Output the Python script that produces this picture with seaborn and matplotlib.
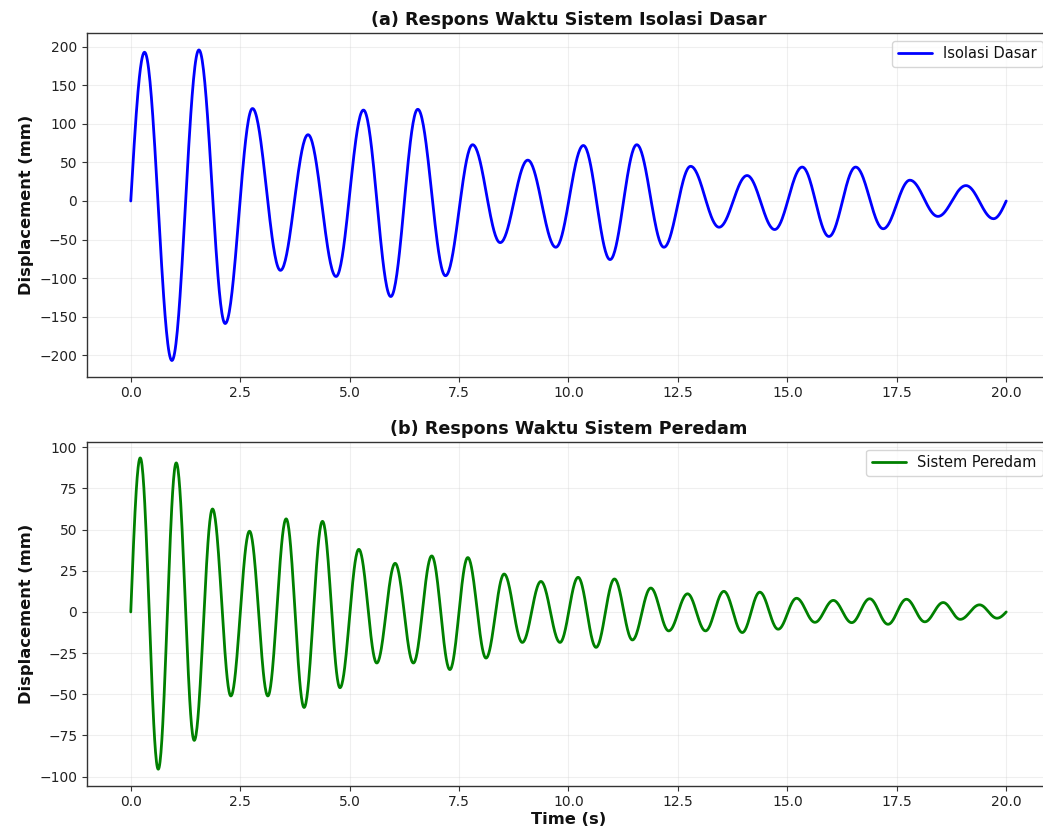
import numpy as np
import pandas as pd
import matplotlib
matplotlib.use("Agg")
import matplotlib.pyplot as plt
import seaborn as sns

# ---- Data (extrema of each response, plus start/end) ----
iso_time = [0.0, 0.315, 0.94, 1.557, 2.157, 2.781, 3.42, 4.05, 4.69, 5.316, 5.94,
            6.557, 7.19, 7.81, 8.44, 9.07, 9.71, 10.34, 10.95, 11.56, 12.18,
            12.79, 13.44, 14.08, 14.71, 15.34, 15.95, 16.56, 17.19, 17.80,
            18.44, 19.08, 19.71, 20.0]
iso_disp = [0.0, 193, -207, 196, -159, 120, -90, 86, -98, 118, -124,
            119, -97, 73, -54, 53, -60, 72, -76, 73, -60,
            45, -34, 33, -37, 44, -46, 44, -36, 27,
            -20, 20, -23, 0.0]

dmp_time = [0.0, 0.217, 0.628, 1.039, 1.45, 1.868, 2.287, 2.713, 3.132, 3.55, 3.96,
            4.38, 4.78, 5.21, 5.62, 6.04, 6.457, 6.876, 7.29, 7.70, 8.116,
            8.53, 8.945, 9.37, 9.806, 10.22, 10.63, 11.05, 11.46, 11.88, 12.29,
            12.72, 13.13, 13.55, 13.97, 14.37, 14.79, 15.21, 15.63, 16.05, 16.47,
            16.88, 17.30, 17.72, 18.14, 18.56, 18.95, 19.39, 19.79, 20.0]
dmp_disp = [0.0, 93.5, -95.5, 90.5, -78, 62.5, -51, 49, -51, 56.5, -58,
            55, -46, 38, -31, 29.5, -31, 34, -35, 33, -28,
            23, -18.5, 18.5, -18.5, 21, -21.5, 20, -17, 14.5, -11.5,
            11, -11.5, 12.5, -12.5, 12, -10.5, 8.3, -6.3, 7, -6.5,
            8, -7.5, 7.7, -6, 5.7, -4.5, 4.3, -3.8, 0.0]

titles = ["(a) Respons Waktu Sistem Isolasi Dasar", "(b) Respons Waktu Sistem Peredam"]
labels = ["Isolasi Dasar", "Sistem Peredam"]
colors = ["blue", "green"]
x_ticks = [0.0, 2.5, 5.0, 7.5, 10.0, 12.5, 15.0, 17.5, 20.0]


def smooth_trace(times, values, n=40):
    """Join the read extrema with half-wave arcs so the oscillation stays round."""
    ts, ys = [], []
    last = len(times) - 2
    for i in range(len(times) - 1):
        ta, tb = times[i], times[i + 1]
        ya, yb = values[i], values[i + 1]
        s = np.linspace(0, 1, n, endpoint=(i == last))
        if i == 0:
            y = yb * np.sin(np.pi / 2 * s)
        elif i == last:
            y = ya * np.cos(np.pi / 2 * s)
        else:
            y = (ya + yb) / 2 + (ya - yb) / 2 * np.cos(np.pi * s)
        ts.append(ta + (tb - ta) * s)
        ys.append(y)
    return pd.DataFrame({"t": np.concatenate(ts), "y": np.concatenate(ys)})


sns.set_style("ticks", {"axes.edgecolor": "#333333", "xtick.color": "#333333",
                        "ytick.color": "#333333", "xtick.direction": "out",
                        "ytick.direction": "out", "text.color": "#111111",
                        "axes.labelcolor": "#111111"})
plt.rcParams["font.family"] = ["DejaVu Sans"]
plt.rcParams["xtick.labelcolor"] = "#222222"
plt.rcParams["ytick.labelcolor"] = "#222222"

fig = plt.figure(figsize=(10.43, 8.34), dpi=100)
ax1 = fig.add_axes([0.0834, 0.5483, 0.9233, 0.4117])
ax2 = fig.add_axes([0.0834, 0.0579, 0.9233, 0.4118])

series = [(iso_time, iso_disp), (dmp_time, dmp_disp)]
for ax, (tt, yy), title, lab, col in zip([ax1, ax2], series, titles, labels, colors):
    df = smooth_trace(tt, yy)
    sns.lineplot(data=df, x="t", y="y", ax=ax, color=col, linewidth=2,
                 label=lab, sort=False, estimator=None)
    ax.set_title(title, fontsize=12.7, fontweight="bold", pad=6, color="#111111")
    ax.set_ylabel("Displacement (mm)", fontsize=11.7, fontweight="bold")
    ax.set_xlabel("")
    ax.set_xticks(x_ticks)
    ax.set_xlim(-1, 21)
    ax.grid(True, alpha=0.3)
    ax.tick_params(labelsize=10, length=3.5, width=0.8)
    for sp in ax.spines.values():
        sp.set_linewidth(1.0)
    ax.legend(loc="upper right", fontsize=10.5, frameon=True, fancybox=True,
              framealpha=0.8, handlelength=2.3)

ax1.set_ylim(-228, 217.5)
ax2.set_ylim(-105.5, 103)
ax2.set_xlabel("Time (s)", fontsize=11.7, fontweight="bold", labelpad=2)

fig.savefig("out.png", dpi=100)
